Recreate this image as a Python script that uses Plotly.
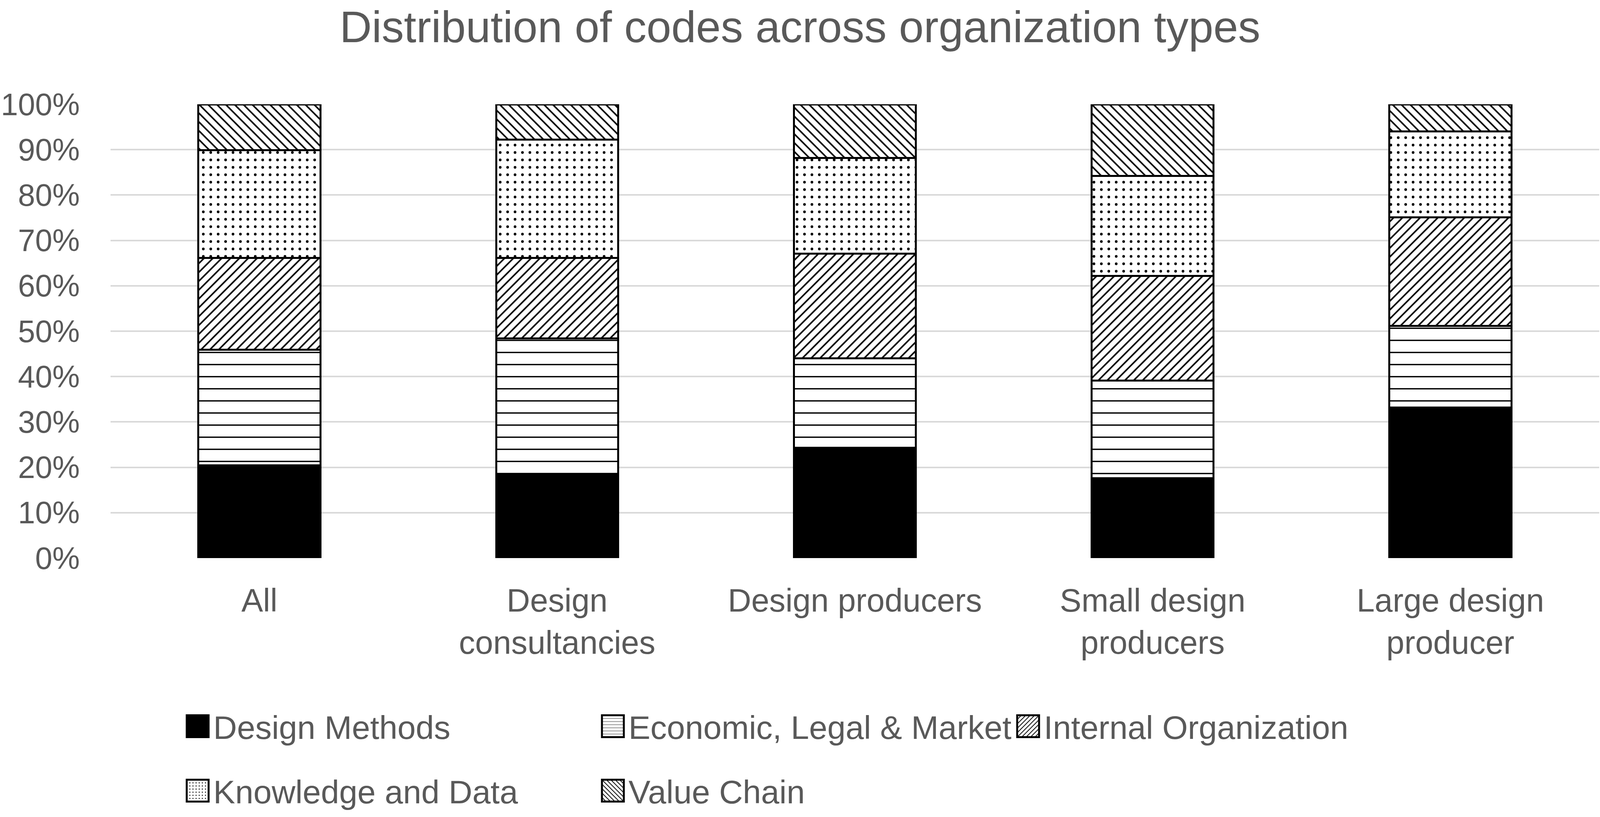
import plotly.graph_objects as go

# organization types (x categories)
org_types = ["All", "Design<br>consultancies", "Design producers",
             "Small design<br>producers", "Large design<br>producer"]

# share of codes per organization type, in %
design_methods = [20.4, 18.3, 24.3, 17.6, 33.2]
economic_legal_market = [25.5, 30.1, 19.7, 21.5, 18.0]
internal_organization = [20.2, 17.7, 23.1, 23.1, 23.9]
knowledge_and_data = [23.8, 26.1, 21.1, 22.0, 18.9]
value_chain = [10.1, 7.8, 11.8, 15.8, 6.0]

y_ticks = list(range(0, 101, 10))
y_labels = [f"{v}%" for v in y_ticks]

series = [
    ("Design Methods", design_methods, "", "legend"),
    ("Economic, Legal & Market", economic_legal_market, "-", "legend"),
    ("Internal Organization", internal_organization, "/", "legend"),
    ("Knowledge and Data", knowledge_and_data, ".", "legend2"),
    ("Value Chain", value_chain, "\\", "legend2"),
]
pattern_size = {"-": 31, "/": 16, ".": 19, "\\": 16}
pattern_solidity = {"-": 0.11, "/": 0.25, ".": 0.1, "\\": 0.25}

FONT = "Liberation Sans, Arial, sans-serif"
GREY = "#595959"
W, H = 4096, 2092  # the browser caps the page width at 4096

fig = go.Figure()
for name, vals, shape, leg in series:
    if shape == "":
        marker = dict(color="black", line=dict(color="black", width=5))
    else:
        marker = dict(color="white", line=dict(color="black", width=5),
                      pattern=dict(shape=shape, fgcolor="black", bgcolor="white",
                                   size=pattern_size[shape], solidity=pattern_solidity[shape],
                                   fillmode="replace"))
    fig.add_trace(go.Bar(x=org_types, y=vals, name=name, marker=marker, legend=leg))

legend_common = dict(orientation="h", xref="container", yref="container",
                     xanchor="left", yanchor="middle",
                     font=dict(family=FONT, size=84, color=GREY),
                     bgcolor="rgba(0,0,0,0)", borderwidth=0,
                     itemwidth=70, entrywidth=978, entrywidthmode="pixels",
                     traceorder="normal")

fig.update_layout(
    width=W, height=H, autosize=False,
    barmode="stack", bargap=0.59,
    plot_bgcolor="white", paper_bgcolor="white",
    margin=dict(l=283, r=2, t=267, b=663, pad=0),
    font=dict(family=FONT, color=GREY),
    title=dict(text="Distribution of codes across organization types",
               x=0.5, xref="container", xanchor="center",
               y=1 - 68 / H, yref="container", yanchor="middle",
               font=dict(family=FONT, size=114, color=GREY)),
    legend=dict(legend_common, x=466 / W, y=1 - 1860 / H),
    legend2=dict(legend_common, x=466 / W, y=1 - 2025 / H),
)

fig.update_yaxes(range=[0, 100], tickvals=y_ticks, ticktext=y_labels,
                 showgrid=True, gridcolor="#d9d9d9", gridwidth=4,
                 zeroline=False, showline=False,
                 ticks="outside", ticklen=62, tickcolor="rgba(0,0,0,0)",
                 tickfont=dict(family=FONT, size=79, color=GREY))
fig.update_xaxes(type="category", showgrid=False, showline=False, zeroline=False,
                 ticks="outside", ticklen=36, tickcolor="rgba(0,0,0,0)",
                 tickfont=dict(family=FONT, size=83, color=GREY))

# bigger legend swatches, like the original chart
post = """
document.body.style.margin = '0';
var gd = document.getElementById('{plot_id}');
function bigSwatches() {
  gd.querySelectorAll('g.legendpoints path').forEach(function(p) {
    p.setAttribute('d', 'M28,28H-28V-28H28Z');
  });
}
bigSwatches();
gd.on('plotly_afterplot', bigSwatches);
"""

fig.write_html("out.html", post_script=post, config={"displayModeBar": False})
